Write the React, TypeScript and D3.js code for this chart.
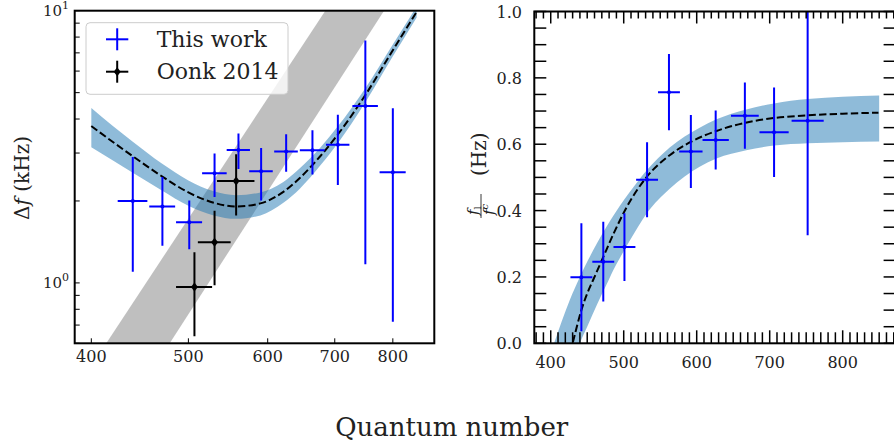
import React from "react";
import * as d3 from "d3";

// line widths vs quantum number (left panel)
const quantumN = [440, 471, 501, 531, 561, 591, 626, 665, 705, 751, 800];
const quantumNErr = [15, 14, 15, 15, 15, 16, 17, 19, 19, 22, 24];
const widthKHz = [2.0, 1.91, 1.67, 2.53, 3.08, 2.57, 3.04, 3.07, 3.22, 4.47, 2.55];
const widthKHzErr = [0.9, 0.54, 0.34, 0.46, 0.46, 0.56, 0.48, 0.57, 0.93, 3.3, 1.83];

// Oonk 2014 points
const oonkN = [507, 531, 558];
const oonkNErr = [21, 20, 24];
const oonkKHz = [0.967, 1.41, 2.37];
const oonkKHzErr = [0.33, 0.43, 0.6];

// fit curve + band
const fitN = [400, 420, 440, 470, 500, 530, 558, 590, 622, 646, 677, 705, 751, 800, 845];
const fitKHz = [3.77, 3.3, 2.92, 2.47, 2.15, 1.97, 1.91, 1.96, 2.16, 2.43, 2.92, 3.51, 4.9, 7.16, 9.9];
const fitKHzLo = [3.15, 2.82, 2.54, 2.19, 1.92, 1.77, 1.72, 1.77, 1.97, 2.22, 2.7, 3.26, 4.61, 6.8, 9.45];
const fitKHzHi = [4.39, 3.78, 3.3, 2.75, 2.38, 2.17, 2.1, 2.15, 2.35, 2.64, 3.14, 3.76, 5.19, 7.52, 10.35];

// gray band edges (n at kHz = 0.6 and 10)
const grayKHz = [0.6, 10];
const grayLeftN = [414, 685];
const grayRightN = [479, 784];

// ratio panel (right)
const ratioN = [442, 472, 501, 532, 562, 592, 626, 666, 706, 752];
const ratioNErr = [15, 15, 15, 15, 15, 16, 18, 19, 20, 22];
const ratioHz = [0.199, 0.246, 0.29, 0.493, 0.757, 0.578, 0.613, 0.686, 0.636, 0.671];
const ratioHzErr = [0.163, 0.12, 0.102, 0.113, 0.115, 0.11, 0.089, 0.1, 0.135, 0.345];

const ratioFitN = [420, 430, 442, 463, 471, 486, 504, 531, 563, 591, 627, 667, 706, 752, 800, 849];
const ratioFit = [-0.09, 0.0, 0.1, 0.215, 0.255, 0.33, 0.41, 0.5, 0.567, 0.606, 0.64, 0.665, 0.679, 0.687, 0.692, 0.695];
const ratioBandN = [400, 426, 440, 451, 463, 476, 486, 495, 508, 531, 563, 604, 627, 668, 706, 752, 800, 850];
const ratioBandHi = [-0.03, 0.13, 0.2, 0.25, 0.3, 0.35, 0.385, 0.415, 0.455, 0.52, 0.59, 0.65, 0.675, 0.705, 0.723, 0.736, 0.743, 0.747];
const ratioBandLo = [-0.24, -0.09, 0.0, 0.055, 0.115, 0.175, 0.222, 0.258, 0.308, 0.39, 0.466, 0.532, 0.557, 0.582, 0.596, 0.603, 0.606, 0.608];

const leftXTicks = [400, 500, 600, 700, 800];
const legendLabels = ["This work", "Oonk 2014"];

const FONT = "DejaVu Serif";
const BLUE = "#0000ff";

function diamond(cx: number, cy: number) {
  return `M${cx},${cy - 4.5}L${cx + 3.5},${cy}L${cx},${cy + 4.5}L${cx - 3.5},${cy}Z`;
}

export default function App() {
  const lx = d3.scaleLog().domain([385, 880]).range([74.7, 434.3]);
  const ly = d3.scaleLog().domain([0.6, 10]).range([343.3, 10.7]);
  const rx = d3.scaleLinear().domain([377.5, 872.5]).range([534.3, 895.6]);
  const ry = d3.scaleLinear().domain([0, 1]).range([343.3, 11.5]);

  const idxFit = fitN.map((_, i) => i);
  const leftBand = d3
    .area<number>()
    .x((i) => lx(fitN[i]))
    .y0((i) => ly(fitKHzLo[i]))
    .y1((i) => ly(fitKHzHi[i]))
    .curve(d3.curveMonotoneX)(idxFit);
  const leftFit = d3
    .line<number>()
    .x((i) => lx(fitN[i]))
    .y((i) => ly(fitKHz[i]))
    .curve(d3.curveMonotoneX)(idxFit);
  const gray = `M${lx(grayLeftN[0])},${ly(grayKHz[0])}L${lx(grayLeftN[1])},${ly(grayKHz[1])}L${lx(grayRightN[1])},${ly(grayKHz[1])}L${lx(grayRightN[0])},${ly(grayKHz[0])}Z`;

  const rightBand = d3
    .area<number>()
    .x((i) => rx(ratioBandN[i]))
    .y0((i) => ry(ratioBandLo[i]))
    .y1((i) => ry(ratioBandHi[i]))
    .curve(d3.curveMonotoneX)(ratioBandN.map((_, i) => i));
  const rightFit = d3
    .line<number>()
    .x((i) => rx(ratioFitN[i]))
    .y((i) => ry(ratioFit[i]))
    .curve(d3.curveMonotoneX)(ratioFitN.map((_, i) => i));

  const lyTicks = ly.ticks();
  const rxMinor = rx.ticks(50);
  const rxMajor = rx.ticks(5);
  const ryMinor = ry.ticks(25);
  const ryMajor = ry.ticks(5);

  const L = { x0: 74.7, x1: 434.3, y0: 10.7, y1: 343.3 };
  const R = { x0: 534.3, x1: 895.6, y0: 11.5, y1: 343.3 };

  return (
    <svg width={894} height={445} style={{ position: "absolute", left: 0, top: 0 }} fontFamily={FONT}>
      <defs>
        <clipPath id="clipL">
          <rect x={L.x0} y={L.y0} width={L.x1 - L.x0} height={L.y1 - L.y0} />
        </clipPath>
        <clipPath id="clipR">
          <rect x={R.x0} y={R.y0} width={R.x1 - R.x0} height={R.y1 - R.y0} />
        </clipPath>
      </defs>
      <rect width={894} height={445} fill="white" />

      {/* left panel */}
      <g clipPath="url(#clipL)">
        <path d={gray} fill="#808080" fillOpacity={0.5} />
        <path d={leftBand || ""} fill="#1f77b4" fillOpacity={0.5} />
        <path d={leftFit || ""} fill="none" stroke="black" strokeWidth={2} strokeDasharray="7.4,3.2" />
        {quantumN.map((n, i) => (
          <g key={"b" + i} stroke={BLUE} strokeWidth={2}>
            <line x1={lx(n - quantumNErr[i])} x2={lx(n + quantumNErr[i])} y1={ly(widthKHz[i])} y2={ly(widthKHz[i])} />
            <line x1={lx(n)} x2={lx(n)} y1={ly(widthKHz[i] - widthKHzErr[i])} y2={ly(widthKHz[i] + widthKHzErr[i])} />
            <circle cx={lx(n)} cy={ly(widthKHz[i])} r={2} fill={BLUE} stroke="none" />
          </g>
        ))}
        {oonkN.map((n, i) => (
          <g key={"k" + i} stroke="black" strokeWidth={2}>
            <line x1={lx(n - oonkNErr[i])} x2={lx(n + oonkNErr[i])} y1={ly(oonkKHz[i])} y2={ly(oonkKHz[i])} />
            <line x1={lx(n)} x2={lx(n)} y1={ly(oonkKHz[i] - oonkKHzErr[i])} y2={ly(oonkKHz[i] + oonkKHzErr[i])} />
            <path d={diamond(lx(n), ly(oonkKHz[i]))} fill="black" stroke="none" />
          </g>
        ))}
      </g>
      {/* left ticks */}
      {lyTicks.map((t) => (
        <line key={"ly" + t} x1={L.x0} x2={L.x0 + 5} y1={ly(t)} y2={ly(t)} stroke="black" strokeWidth={1} />
      ))}
      {leftXTicks.map((t) => (
        <g key={"lx" + t}>
          <line x1={lx(t)} x2={lx(t)} y1={L.y1} y2={L.y1 - 5} stroke="black" strokeWidth={1} />
          <text x={lx(t)} y={362} textAnchor="middle" fontSize={16} fill="#222">
            {t}
          </text>
        </g>
      ))}
      {[1, 10].map((t) => (
        <text key={"lyl" + t} x={69} y={ly(t) + 5} textAnchor="end" fontSize={15} fill="#222">
          10
          <tspan dy={-7} fontSize={11}>
            {t === 1 ? "0" : "1"}
          </tspan>
        </text>
      ))}
      <rect x={L.x0} y={L.y0} width={L.x1 - L.x0} height={L.y1 - L.y0} fill="none" stroke="black" strokeWidth={2} />

      {/* legend */}
      <g>
        <rect x={86} y={22.7} width={202} height={71.6} rx={4} fill="white" fillOpacity={0.8} stroke="#cccccc" strokeWidth={1} />
        <g stroke={BLUE} strokeWidth={2}>
          <line x1={106} x2={128.3} y1={39.3} y2={39.3} />
          <line x1={117.2} x2={117.2} y1={28.3} y2={50.3} />
        </g>
        <g stroke="black" strokeWidth={2}>
          <line x1={106} x2={128.3} y1={71.7} y2={71.7} />
          <line x1={117.2} x2={117.2} y1={60.7} y2={82.7} />
          <path d={diamond(117.2, 71.7)} fill="black" stroke="none" />
        </g>
        {legendLabels.map((s, i) => (
          <text key={s} x={156.7} y={47 + i * 32.4} fontSize={22} fill="#222">
            {s}
          </text>
        ))}
      </g>

      {/* left y label */}
      <g transform="translate(29,178) rotate(-90)">
        <text textAnchor="middle" fontSize={20} fill="#222">
          Δ<tspan fontStyle="italic">f</tspan> (kHz)
        </text>
      </g>

      {/* right panel */}
      <g clipPath="url(#clipR)">
        <path d={rightBand || ""} fill="#1f77b4" fillOpacity={0.5} />
        <path d={rightFit || ""} fill="none" stroke="black" strokeWidth={2} strokeDasharray="7.4,3.2" />
        {ratioN.map((n, i) => (
          <g key={"r" + i} stroke={BLUE} strokeWidth={2}>
            <line x1={rx(n - ratioNErr[i])} x2={rx(n + ratioNErr[i])} y1={ry(ratioHz[i])} y2={ry(ratioHz[i])} />
            <line x1={rx(n)} x2={rx(n)} y1={ry(ratioHz[i] - ratioHzErr[i])} y2={ry(ratioHz[i] + ratioHzErr[i])} />
            <circle cx={rx(n)} cy={ry(ratioHz[i])} r={2} fill={BLUE} stroke="none" />
          </g>
        ))}
      </g>
      <g stroke="black" strokeWidth={1.5}>
        {rxMinor.map((t) => {
          const major = rxMajor.includes(t);
          return (
            <g key={"rx" + t}>
              <line x1={rx(t)} x2={rx(t)} y1={R.y1} y2={R.y1 - (major ? 13 : 11)} />
              <line x1={rx(t)} x2={rx(t)} y1={R.y0} y2={R.y0 + (major ? 12 : 7)} />
            </g>
          );
        })}
        {ryMinor.map((t) => (
          <g key={"ry" + t}>
            <line x1={R.x0} x2={R.x0 + 12} y1={ry(t)} y2={ry(t)} />
            <line x1={R.x1} x2={R.x1 - 12} y1={ry(t)} y2={ry(t)} />
          </g>
        ))}
      </g>
      {rxMajor.map((t) => (
        <text key={"rxl" + t} x={rx(t)} y={368} textAnchor="middle" fontSize={16} fill="#222">
          {t}
        </text>
      ))}
      {ryMajor.map((t) => (
        <text key={"ryl" + t} x={522} y={ry(t) + 6} textAnchor="end" fontSize={16} fill="#222">
          {t.toFixed(1)}
        </text>
      ))}
      <rect x={R.x0} y={R.y0} width={R.x1 - R.x0} height={R.y1 - R.y0} fill="none" stroke="black" strokeWidth={2} />

      {/* right y label: f_l / f^c (Hz) */}
      <g transform="translate(486,218) rotate(-90)" fill="#222">
        <text x={3} y={-8} fontSize={15} fontStyle="italic">
          f<tspan fontSize={10} dy={3} fontStyle="normal">l</tspan>
        </text>
        <line x1={0} x2={24} y1={-5} y2={-5} stroke="#222" strokeWidth={0.9} />
        <text x={3} y={8} fontSize={15} fontStyle="italic">
          f<tspan fontSize={10} dy={-6}>c</tspan>
        </text>
        <text x={42} y={0} fontSize={20}>
          (Hz)
        </text>
      </g>

      {/* shared x label */}
      <text x={451.7} y={436} textAnchor="middle" fontSize={26} fill="#222">
        Quantum number
      </text>
    </svg>
  );
}
